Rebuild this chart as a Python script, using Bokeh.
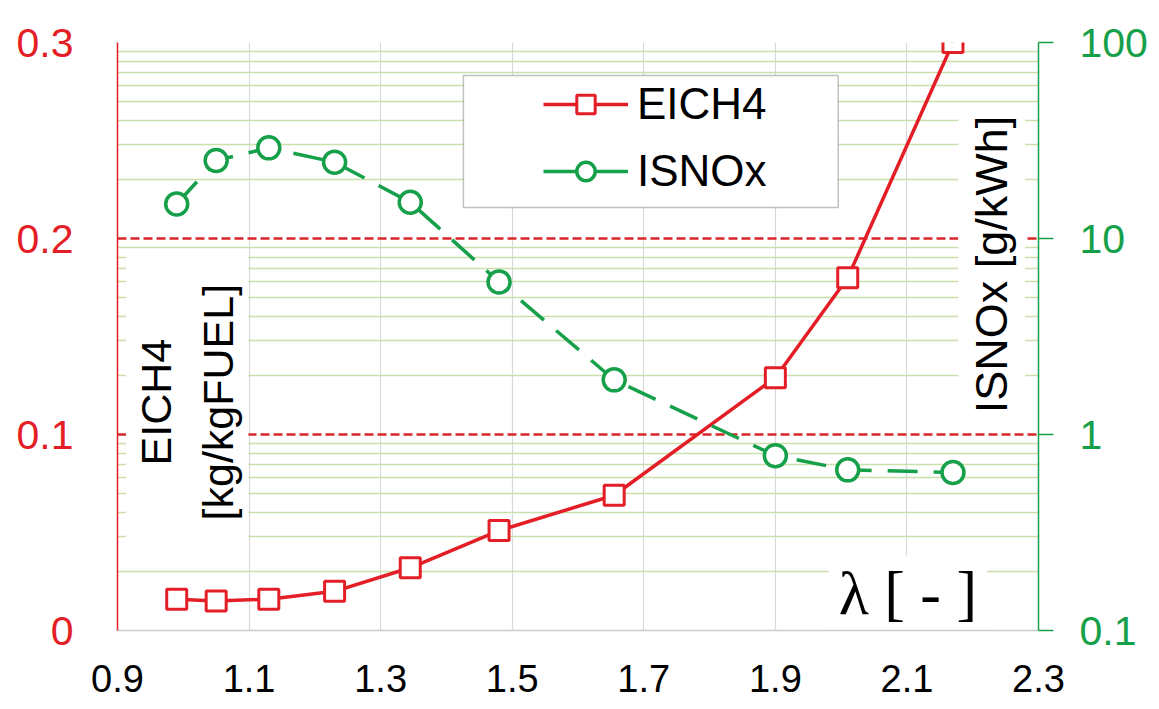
import math
from bokeh.plotting import figure
from bokeh.models import (Range1d, LogAxis, LogScale, FixedTicker, Grid,
                          Legend, LegendItem, Label, BoxAnnotation)
from bokeh.embed import file_html
from bokeh.resources import INLINE

# ---- data ----
lam = [0.99, 1.05, 1.13, 1.23, 1.345, 1.48, 1.655, 1.90, 2.01, 2.17]
eich4 = [0.016, 0.015, 0.016, 0.020, 0.032, 0.051, 0.069, 0.129, 0.180, 0.300]
isnox = [15.0, 25.0, 29.0, 24.5, 15.3, 6.0, 1.9, 0.78, 0.66, 0.64]

x_ticks = [0.9, 1.1, 1.3, 1.5, 1.7, 1.9, 2.1, 2.3]
x_labels = ["0.9", "1.1", "1.3", "1.5", "1.7", "1.9", "2.1", "2.3"]
left_ticks = [0, 0.1, 0.2, 0.3]
left_labels = ["0", "0.1", "0.2", "0.3"]
right_ticks = [0.1, 1, 10, 100]
right_labels = ["0.1", "1", "10", "100"]

RED = "#e41e26"
GRID_RED = "#d9262b"
GREEN = "#17a04a"
MINOR_GREEN = "#c9e0ab"
VGRID = "#d9d9d9"
FONT = "Liberation Sans"

p = figure(width=1151, height=709, output_backend="svg", toolbar_location=None,
           x_range=Range1d(0.9, 2.3), y_range=Range1d(0, 0.3),
           min_border_left=117, min_border_right=113, min_border_top=42, min_border_bottom=79,
           outline_line_color=None, background_fill_color="white", border_fill_color="white")
p.extra_y_ranges = {"nox": Range1d(0.1, 100)}
p.extra_y_scales = {"nox": LogScale()}

# ---- axes ----
xa = p.xaxis[0]
xa.ticker = FixedTicker(ticks=x_ticks)
xa.major_label_overrides = dict(zip(x_ticks, x_labels))
xa.major_label_text_font = FONT
xa.major_label_text_font_size = "38px"
xa.major_label_text_color = "black"
xa.major_label_standoff = 34
xa.axis_line_color = "#cccccc"
xa.axis_line_width = 1.5
xa.major_tick_out = 0
xa.major_tick_in = 0
xa.minor_tick_out = 0
xa.minor_tick_in = 0

ya = p.yaxis[0]
ya.ticker = FixedTicker(ticks=left_ticks)
ya.major_label_overrides = dict(zip(left_ticks, left_labels))
ya.major_label_text_font = FONT
ya.major_label_text_font_size = "41px"
ya.major_label_text_color = RED
ya.major_label_standoff = 44
ya.axis_line_color = RED
ya.axis_line_width = 1.5
ya.major_tick_out = 0
ya.major_tick_in = 0
ya.minor_tick_out = 0
ya.minor_tick_in = 0

ra = LogAxis(y_range_name="nox", ticker=FixedTicker(ticks=right_ticks))
ra.major_label_overrides = dict(zip(right_ticks, right_labels))
ra.major_label_text_font = FONT
ra.major_label_text_font_size = "41px"
ra.major_label_text_color = GREEN
ra.major_label_standoff = 26
ra.axis_line_color = GREEN
ra.axis_line_width = 1.5
ra.major_tick_line_color = GREEN
ra.major_tick_line_width = 1.5
ra.major_tick_out = 15
ra.major_tick_in = 0
ra.minor_tick_out = 0
ra.minor_tick_in = 0
p.add_layout(ra, "right")

# ---- grids ----
p.xgrid[0].ticker = FixedTicker(ticks=x_ticks[1:-1])
p.xgrid[0].grid_line_color = VGRID
p.xgrid[0].grid_line_width = 1.2

minor_log = [m * 10.0 ** e for e in (-1, 0, 1) for m in range(2, 10)]
g2 = Grid(dimension=1, y_range_name="nox", axis=ra,
          ticker=FixedTicker(ticks=[], minor_ticks=minor_log))
g2.grid_line_color = None
g2.minor_grid_line_color = MINOR_GREEN
g2.minor_grid_line_width = 1.3
p.add_layout(g2)

p.ygrid[0].ticker = FixedTicker(ticks=left_ticks[1:])
p.ygrid[0].grid_line_color = GRID_RED
p.ygrid[0].grid_line_width = 2.5
p.ygrid[0].grid_line_dash = "9 4"

# ---- text labels with white backgrounds ----
lab1 = Label(x=1.006, y=0.1165, text="EICH4\n[kg/kgFUEL]", angle=math.pi / 2,
             text_align="center", text_baseline="middle", text_font=FONT,
             text_font_size="43px", text_color="black", text_line_height=1.3,
             background_fill_color="white", background_fill_alpha=1.0,
             padding=dict(left=28, right=28, top=6, bottom=6))
p.add_layout(lab1)

lab2 = Label(x=2.229, y=0.1867, text="ISNOx [g/kWh]", angle=math.pi / 2,
             text_align="center", text_baseline="middle", text_font=FONT,
             text_font_size="45px", text_color="black",
             background_fill_color="white", background_fill_alpha=1.0,
             padding=dict(left=8, right=8, top=8, bottom=8))
p.add_layout(lab2)

lab3 = Label(x=2.1015, y=0.0194, text="λ [ - ]",
             text_align="center", text_baseline="middle", text_font="Liberation Serif",
             text_font_size="62px", text_color="black",
             background_fill_color="white", background_fill_alpha=1.0,
             padding=dict(left=10, right=10, top=4, bottom=2))
p.add_layout(lab3)

# ---- data series ----
red_line = p.line(lam, eich4, line_color=RED, line_width=3.5)
red_sq = p.scatter(lam, eich4, marker="square", size=20, fill_color="white",
                   line_color=RED, line_width=3)

green_line = p.line(lam, isnox, y_range_name="nox", line_color=GREEN, line_width=3.5,
                    line_dash="30 16")
green_c = p.scatter(lam, isnox, y_range_name="nox", marker="circle", size=22,
                    fill_color="white", line_color=GREEN, line_width=3.5)
# single-point solid line: invisible in the plot, gives the legend a solid sample
green_proxy = p.line(x=lam[:1], y=isnox[:1], y_range_name="nox", line_color=GREEN,
                     line_width=3.5)

# ---- legend ----
box = BoxAnnotation(left=1.4258, right=1.9955, top=0.2832, bottom=0.2158,
                    fill_color="white", fill_alpha=1.0, line_color="#333333", line_width=1.5)
p.add_layout(box)

legend = Legend(items=[LegendItem(label="EICH4", renderers=[red_line, red_sq]),
                       LegendItem(label="ISNOx", renderers=[green_proxy, green_c])],
                location=(426, 434), padding=0, border_line_color=None,
                background_fill_alpha=0, glyph_width=85, glyph_height=46, spacing=17,
                label_standoff=9, label_text_font=FONT, label_text_font_size="44px",
                label_text_color="black", label_height=46, margin=0)
p.add_layout(legend)

open("out.html", "w").write(file_html(p, INLINE))
